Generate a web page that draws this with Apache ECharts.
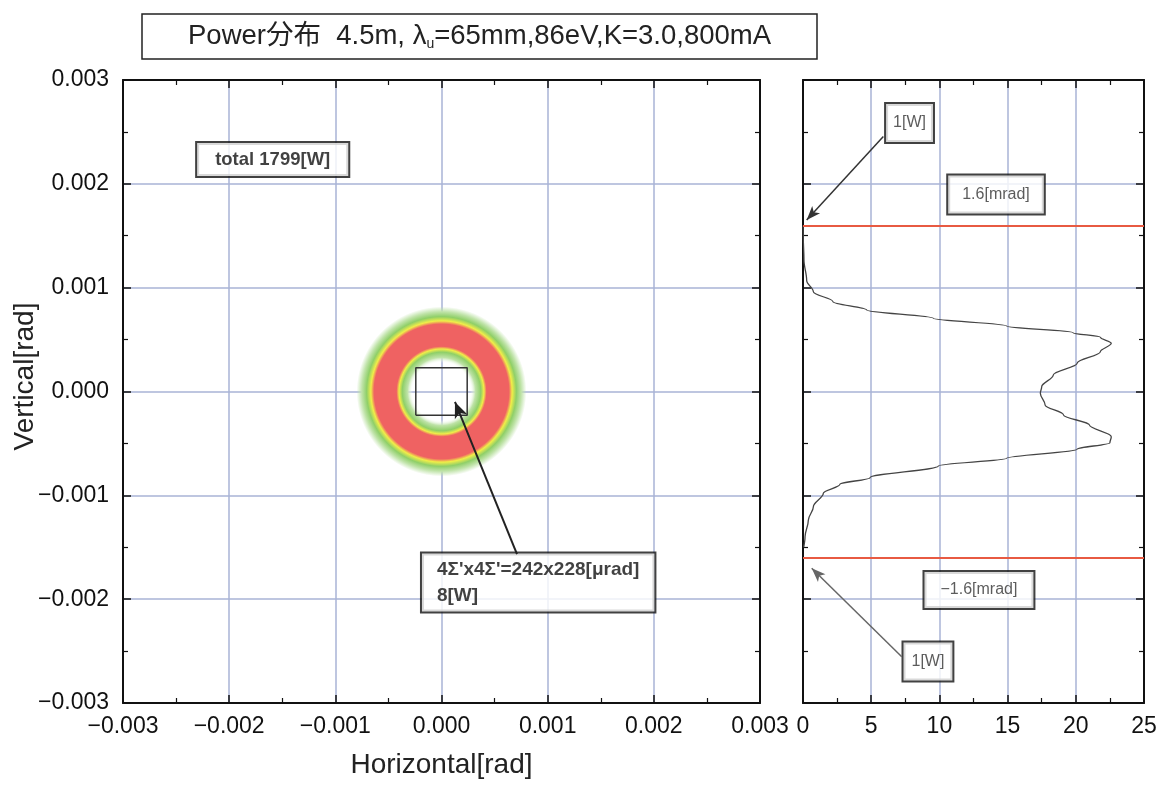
<!DOCTYPE html>
<html>
<head>
<meta charset="utf-8">
<script src="https://cdn.jsdelivr.net/npm/echarts@6/dist/echarts.min.js"></script>
<style>
html,body{margin:0;padding:0;background:#fff;}
#chart{width:1167px;height:786px;}
</style>
</head>
<body>
<div id="chart"></div>
<script>
// ---------- data ----------
const angleTickLabels = ['\u22120.003','\u22120.002','\u22120.001','0.000','0.001','0.002','0.003'];
const powerTickLabels = ['0','5','10','15','20','25'];

// vertical power profile: vertical angle [rad] vs power [W]
const profileAngle = [0.00160, 0.00149, 0.00127, 0.00107, 0.00096, 0.000865, 0.000785, 0.000705, 0.000631, 0.000567, 0.000522, 0.000464, 0.000384, 0.000272, 0.000159, 0.000046, -0.000017, -0.00013, -0.000226, -0.000323, -0.000435, -0.000493, -0.000557, -0.000644, -0.000718, -0.00083, -0.000894, -0.000981, -0.00111, -0.00124, -0.0014, -0.0015];
const profilePower = [0, 0.02, 0.07, 0.27, 0.76, 2.2, 4.67, 9.55, 14.93, 19.8, 21.8, 22.6, 21.8, 20.1, 18.35, 17.5, 17.4, 17.75, 19.1, 21.0, 22.6, 22.5, 20.1, 14.93, 9.92, 4.91, 2.71, 1.49, 0.76, 0.39, 0.15, 0.05];

// power density ring (radial profile) [rad] and level at that radius
const ringRadii  = [0, 0.00027, 0.00032, 0.00037, 0.00040, 0.000425, 0.000635, 0.000665, 0.000705, 0.00075, 0.00080];
const ringLevels = ['none','none','low','mid','high','top','top','high','mid','low','fade'];
const ringOuter = 0.00080;

// 4Σ' x 4Σ' box half-sizes [rad]
const boxHalfH = 0.000242;
const boxHalfV = 0.000228;

// red limit lines [rad], drawn across the power range
const limitAngles = [0.0016, -0.0016];
const powerRange = [0, 25];

// annotation texts
const totalText = 'total 1799[W]';
const boxText = "4\u03a3'x4\u03a3'=242x228[\u03bcrad]\n8[W]";
const topWText = '1[W]';
const botWText = '1[W]';
const upLimText = '1.6[mrad]';
const loLimText = '\u22121.6[mrad]';

// ---------- styles ----------
const levelColor = {
  none: 'rgba(255,255,255,0)',
  low: '#bfe3a8',
  mid: '#8fcf68',
  high: '#f0ee48',
  top: '#ef6262',
  fade: 'rgba(191,227,168,0)'
};
const gridColor = '#a9b3d6';
const axisFont = "'Liberation Sans', Arial, sans-serif";

const profileData = profileAngle.map((a, i) => [profilePower[i], a]);
const boxData = [[-boxHalfH,-boxHalfV],[boxHalfH,-boxHalfV],[boxHalfH,boxHalfV],[-boxHalfH,boxHalfV],[-boxHalfH,-boxHalfV]];
const ringStops = ringRadii.map((r, i) => ({offset: r / ringOuter, color: levelColor[ringLevels[i]]}));

function angleFmt(v){ return angleTickLabels[Math.round(v / 0.001) + 3]; }
function powerFmt(v){ return powerTickLabels[Math.round(v / 5)]; }

const axisLineStyle = {show: true, onZero: false, lineStyle: {color: '#111', width: 2}};
const tickStyle = {show: true, inside: true, length: 8, lineStyle: {color: '#111', width: 1.5}};
const minorStyle = {show: true, splitNumber: 2, length: 5, lineStyle: {color: '#111', width: 1.2}};
const labelStyle = {color: '#111', fontSize: 23, fontFamily: axisFont};
const split = {show: true, lineStyle: {color: gridColor, width: 1.5}};

function angleAxisX(pos, showLabel){
  return {type:'value', gridIndex:0, position:pos, min:-0.003, max:0.003, interval:0.001,
    axisLine: axisLineStyle, axisTick: tickStyle, minorTick: minorStyle,
    splitLine: showLabel ? split : {show:false},
    axisLabel: {show: showLabel, formatter: angleFmt, margin: 12, ...labelStyle}};
}
function angleAxisY(grid, pos, showLabel){
  return {type:'value', gridIndex:grid, position:pos, min:-0.003, max:0.003, interval:0.001,
    axisLine: axisLineStyle, axisTick: tickStyle, minorTick: minorStyle,
    splitLine: (pos === 'left') ? split : {show:false},
    axisLabel: {show: showLabel, formatter: angleFmt, margin: 14, ...labelStyle}};
}
function powerAxisX(pos, showLabel){
  return {type:'value', gridIndex:1, position:pos, min:0, max:25, interval:5,
    axisLine: axisLineStyle, axisTick: tickStyle, minorTick: minorStyle,
    splitLine: showLabel ? split : {show:false},
    axisLabel: {show: showLabel, formatter: powerFmt, margin: 12, ...labelStyle}};
}

const boxLabel = (pad, size, weight, color) => ({
  show: true, position: 'inside', color: color || '#111', fontSize: size, fontWeight: weight || 'normal',
  fontFamily: axisFont, backgroundColor: '#fff', borderColor: '#111', borderWidth: 2, padding: pad
});

const redLine = {color: '#e85a42', width: 2, type: 'solid'};

const chart = echarts.init(document.getElementById('chart'), null, {renderer: 'canvas'});
chart.setOption({
  backgroundColor: '#fff',
  animation: false,
  title: {
    left: 142, top: 13,
    text: 'Power\u5206\u5e03  4.5m, {l|\u03bb}{u|u}=65mm,86eV,K=3.0,800mA',
    padding: [8, 46],
    backgroundColor: '#fff', borderColor: '#222', borderWidth: 1.5,
    textStyle: {
      fontSize: 27.5, fontWeight: 'normal', color: '#222',
      fontFamily: "'Liberation Sans', 'Noto Sans CJK JP', sans-serif",
      rich: {
        l: {fontSize: 27.5, color: '#222', fontFamily: "'Liberation Sans', sans-serif"},
        u: {fontSize: 14, color: '#222', padding: [16, 0, 0, 0], fontFamily: "'Liberation Sans', sans-serif"}
      }
    }
  },
  grid: [
    {left: 123, top: 80, width: 637, height: 623, outerBoundsMode: 'none', containLabel: false},
    {left: 803, top: 80, width: 341, height: 623, outerBoundsMode: 'none', containLabel: false}
  ],
  xAxis: [
    Object.assign(angleAxisX('bottom', true), {
      name: 'Horizontal[rad]', nameLocation: 'middle', nameGap: 48, nameMoveOverlap: false,
      nameTextStyle: {fontSize: 28, color: '#222', fontFamily: axisFont}
    }),
    angleAxisX('top', false),
    powerAxisX('bottom', true),
    powerAxisX('top', false)
  ],
  yAxis: [
    Object.assign(angleAxisY(0, 'left', true), {
      name: 'Vertical[rad]', nameLocation: 'middle', nameGap: 84, nameMoveOverlap: false,
      nameTextStyle: {fontSize: 28, color: '#222', fontFamily: axisFont, padding: [0, 0, 0, 30]}
    }),
    angleAxisY(0, 'right', false),
    angleAxisY(1, 'left', false),
    angleAxisY(1, 'right', false)
  ],
  series: [
    {
      type: 'custom', xAxisIndex: 0, yAxisIndex: 0, silent: true,
      data: [[0, 0, ringOuter]],
      renderItem: function(params, api){
        const c = api.coord([api.value(0), api.value(1)]);
        const r = api.size([api.value(2), 0])[0];
        return {type: 'circle', shape: {cx: c[0], cy: c[1], r: r},
          style: {fill: {type: 'radial', x: 0.5, y: 0.5, r: 0.5, colorStops: ringStops}}};
      }
    },
    {
      type: 'line', xAxisIndex: 0, yAxisIndex: 0, data: boxData, symbol: 'none', silent: true,
      lineStyle: {color: '#333', width: 1.5},
      markLine: {
        silent: true, label: {show: false}, symbol: ['none', 'arrow'], symbolSize: [10, 16],
        lineStyle: {color: '#222', width: 2, type: 'solid'},
        data: [[{coord: [0.000711, -0.001566]}, {coord: [0.000127, -0.000101]}]]
      }
    },
    {
      type: 'scatter', xAxisIndex: 0, yAxisIndex: 0, symbolSize: 0, silent: true,
      data: [
        {value: [-0.00159, 0.002235], label: Object.assign(boxLabel([7, 18], 18.5, 'bold'), {formatter: totalText})},
        {value: [-0.000184, -0.00184], label: Object.assign(boxLabel([3, 15], 19, 'bold'),
          {formatter: boxText, position: 'right', distance: 0, align: 'left', lineHeight: 26})}
      ]
    },
    {
      type: 'line', xAxisIndex: 2, yAxisIndex: 2, data: profileData, symbol: 'none', silent: true,
      smooth: 0.35, smoothMonotone: 'y',
      lineStyle: {color: '#444', width: 1.3},
      markLine: {
        silent: true, label: {show: false}, symbol: ['none', 'none'],
        data: [
          [{coord: [powerRange[0], limitAngles[0]], lineStyle: redLine}, {coord: [powerRange[1], limitAngles[0]]}],
          [{coord: [powerRange[0], limitAngles[1]], lineStyle: redLine}, {coord: [powerRange[1], limitAngles[1]]}],
          [{coord: [5.89, 0.002455], symbol: 'none', lineStyle: {color: '#333', width: 1.5, type: 'solid'}},
           {coord: [0.27, 0.001652], symbol: 'arrow', symbolSize: [8, 14]}],
          [{coord: [7.24, -0.002555], symbol: 'none', lineStyle: {color: '#666', width: 1.5, type: 'solid'}},
           {coord: [0.64, -0.001703], symbol: 'arrow', symbolSize: [8, 14]}]
        ]
      }
    },
    {
      type: 'scatter', xAxisIndex: 2, yAxisIndex: 2, symbolSize: 0, silent: true,
      data: [
        {value: [7.81, 0.002587], label: Object.assign(boxLabel([11, 7], 16, 'normal', '#333'), {formatter: topWText})},
        {value: [14.15, 0.001898], label: Object.assign(boxLabel([11, 14], 16, 'normal', '#333'), {formatter: upLimText})},
        {value: [12.9, -0.001912], label: Object.assign(boxLabel([10, 16], 16, 'normal', '#333'), {formatter: loLimText})},
        {value: [9.16, -0.002601], label: Object.assign(boxLabel([11, 8], 16, 'normal', '#333'), {formatter: botWText})}
      ]
    }
  ]
});
</script>
</body>
</html>
